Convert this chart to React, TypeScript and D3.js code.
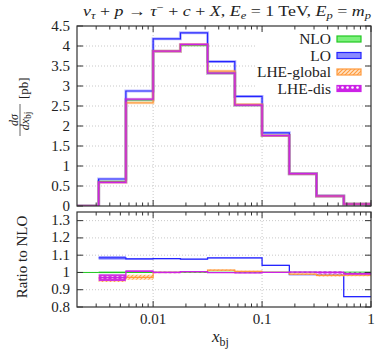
import * as d3 from "d3";

// bin edges in x_bj (first bin is the empty underflow bin)
const binEdges = [0.002, 0.00316, 0.00562, 0.01, 0.0178, 0.0316, 0.0562, 0.1, 0.178, 0.316, 0.562, 1];

// dsigma/dx_bj [pb]
const nloXsec = [0, 0.61, 2.65, 3.87, 4.02, 3.32, 2.52, 1.76, 0.81, 0.25, 0.05];
const loXsec = [0, 0.675, 2.875, 4.18, 4.33, 3.61, 2.74, 1.83, 0.8, 0.25, 0.043];
const globalXsec = [0, 0.59, 2.58, 3.87, 4.04, 3.37, 2.54, 1.76, 0.8, 0.245, 0.049];
const disXsec = [0, 0.59, 2.67, 3.87, 4.04, 3.32, 2.52, 1.76, 0.81, 0.25, 0.05];

// ratio to NLO (bins 1..10) and band half widths
const nloRatio = [1, 1, 1, 1, 1, 1, 1, 1, 1, 1];
const nloErr = [0.004, 0.003, 0.002, 0.002, 0.002, 0.002, 0.002, 0.002, 0.003, 0.004];
const loRatio = [1.084, 1.079, 1.08, 1.077, 1.084, 1.084, 1.041, 0.988, 0.988, 0.86];
const loErr = [0.011, 0.005, 0.004, 0.003, 0.003, 0.003, 0.003, 0.003, 0.003, 0.003];
const globalRatio = [0.965, 0.972, 1.0, 1.005, 1.013, 1.006, 1.0, 0.99, 0.983, 0.985];
const globalErr = [0.02, 0.014, 0.004, 0.003, 0.004, 0.004, 0.003, 0.004, 0.007, 0.007];
const disRatio = [0.97, 1.007, 1.0, 1.005, 0.999, 0.998, 1.0, 1.002, 1.0, 0.993];
const disErr = [0.02, 0.005, 0.004, 0.004, 0.002, 0.002, 0.002, 0.004, 0.007, 0.007];

const topTicks = [0, 0.5, 1, 1.5, 2, 2.5, 3, 3.5, 4, 4.5];
const topTickLabels = ["0", "0.5", "1", "1.5", "2", "2.5", "3", "3.5", "4", "4.5"];
const ratioTicks = [0.8, 0.9, 1, 1.1, 1.2, 1.3];
const ratioTickLabels = ["0.8", "0.9", "1", "1.1", "1.2", "1.3"];
const xMajorTicks = [0.01, 0.1, 1];
const xMajorLabels = ["0.01", "0.1", "1"];
const xMinorTicks = [0.003, 0.004, 0.005, 0.006, 0.007, 0.008, 0.009, 0.02, 0.03, 0.04, 0.05, 0.06, 0.07, 0.08, 0.09, 0.2, 0.3, 0.4, 0.5, 0.6, 0.7, 0.8, 0.9];

const series = [
  { name: "NLO", color: "#22c822", fill: "#7cf07c", xsec: nloXsec, ratio: nloRatio, err: nloErr },
  { name: "LO", color: "#2424ff", fill: "#8a8aff", xsec: loXsec, ratio: loRatio, err: loErr },
  { name: "LHE-global", color: "#ff9a3c", fill: "url(#hatch)", xsec: globalXsec, ratio: globalRatio, err: globalErr },
  { name: "LHE-dis", color: "#cc22e6", fill: "url(#dots)", xsec: disXsec, ratio: disRatio, err: disErr },
];

const W = 380;
const H = 362;
const left = 77, right = 371;
const topY0 = 26, topY1 = 206;
const ratY0 = 212, ratY1 = 307;
const serif = "Liberation Serif";

export default function App() {
  const x = d3.scaleLog().domain([0.002, 1]).range([left, right]);
  const yTop = d3.scaleLinear().domain([0, 4.5]).range([topY1, topY0]);
  const yRat = d3.scaleLinear().domain([0.8, 1.35]).range([ratY1, ratY0]);

  const stepLine = d3
    .line<[number, number]>()
    .x((d) => x(d[0]))
    .y((d) => yTop(d[1]))
    .curve(d3.curveStepAfter);

  const ratioLine = d3
    .line<[number, number]>()
    .x((d) => x(d[0]))
    .y((d) => yRat(d[1]))
    .curve(d3.curveStepAfter);

  const ratioArea = d3
    .area<[number, number, number]>()
    .x((d) => x(d[0]))
    .y0((d) => yRat(d[1] - d[2]))
    .y1((d) => yRat(d[1] + d[2]))
    .curve(d3.curveStepAfter);

  const topPts = (v: number[]) => {
    const p: [number, number][] = v.map((val, i) => [binEdges[i], val]);
    p.push([binEdges[v.length], v[v.length - 1]]);
    return p;
  };
  const ratPts = (r: number[], e: number[]) => {
    const p: [number, number, number][] = r.map((val, i) => [binEdges[i + 1], val, e[i]]);
    p.push([binEdges[r.length + 1], r[r.length - 1], e[e.length - 1]]);
    return p;
  };

  const xTicksFor = (y0: number, dir: number) => (
    <g stroke="#333" strokeWidth={1}>
      {xMajorTicks.map((t) => (
        <line key={"M" + t} x1={x(t)} x2={x(t)} y1={y0} y2={y0 + dir * 6} />
      ))}
      {xMinorTicks.map((t) => (
        <line key={"m" + t} x1={x(t)} x2={x(t)} y1={y0} y2={y0 + dir * 3.5} />
      ))}
    </g>
  );

  const legendRows = [39, 55.5, 72, 88.5];

  return (
    <svg width={W} height={H} style={{ position: "absolute", left: 0, top: 0, background: "#fff", fontFamily: serif }}>
      <defs>
        <pattern id="hatch" patternUnits="userSpaceOnUse" width="4" height="4">
          <rect width="4" height="4" fill="#ffe2c4" />
          <path d="M-1,1 L1,-1 M0,4 L4,0 M3,5 L5,3" stroke="#ff9a3c" strokeWidth="1.1" />
        </pattern>
        <pattern id="dots" patternUnits="userSpaceOnUse" width="5" height="5">
          <rect width="5" height="5" fill="#cc22e6" />
          <circle cx="2.5" cy="2.5" r="1.3" fill="#fff" />
        </pattern>
        <clipPath id="clipTop">
          <rect x={left} y={topY0} width={right - left} height={topY1 - topY0} />
        </clipPath>
        <clipPath id="clipRat">
          <rect x={left} y={ratY0} width={right - left} height={ratY1 - ratY0} />
        </clipPath>
      </defs>

      {/* title */}
      <text x={83} y={16} fontSize={15} fill="#222" textLength={288} lengthAdjust="spacingAndGlyphs" style={{ whiteSpace: "pre", fontFamily: serif }}>
        <tspan fontStyle="italic">ν</tspan>
        <tspan fontStyle="italic" fontSize={10.5} dy={3}>τ</tspan>
        <tspan dy={-3}>{" + "}</tspan>
        <tspan fontStyle="italic">p</tspan>
        <tspan>{" → "}</tspan>
        <tspan fontStyle="italic">τ</tspan>
        <tspan fontSize={10.5} dy={-5}>−</tspan>
        <tspan dy={5}>{" + "}</tspan>
        <tspan fontStyle="italic">c</tspan>
        <tspan>{" + "}</tspan>
        <tspan fontStyle="italic">X</tspan>
        <tspan>{", "}</tspan>
        <tspan fontStyle="italic">E</tspan>
        <tspan fontStyle="italic" fontSize={10.5} dy={3}>e</tspan>
        <tspan dy={-3}>{" = 1 TeV, "}</tspan>
        <tspan fontStyle="italic">E</tspan>
        <tspan fontStyle="italic" fontSize={10.5} dy={3}>p</tspan>
        <tspan dy={-3}>{" = "}</tspan>
        <tspan fontStyle="italic">m</tspan>
        <tspan fontStyle="italic" fontSize={10.5} dy={3}>p</tspan>
      </text>

      {/* grid */}
      <g stroke="#c8c8c8" strokeDasharray="1,2" strokeWidth={1}>
        {topTicks.slice(1, -1).map((t) => (
          <line key={"gt" + t} x1={left} x2={right} y1={yTop(t)} y2={yTop(t)} />
        ))}
        {ratioTicks.slice(1).map((t) => (
          <line key={"gr" + t} x1={left} x2={right} y1={yRat(t)} y2={yRat(t)} />
        ))}
        {xMajorTicks.slice(0, 2).map((t) => (
          <g key={"gx" + t}>
            <line x1={x(t)} x2={x(t)} y1={topY0} y2={topY1} />
            <line x1={x(t)} x2={x(t)} y1={ratY0} y2={ratY1} />
          </g>
        ))}
      </g>

      {/* legend background */}
      <rect x={256} y={30} width={112} height={66} fill="#fff" />

      {/* top panel histograms */}
      <g clipPath="url(#clipTop)" fill="none">
        {series.map((s) => (
          <g key={s.name}>
            <path d={stepLine(topPts(s.xsec)) || ""} stroke={s.color} strokeOpacity={0.3} strokeWidth={3} />
            <path d={stepLine(topPts(s.xsec)) || ""} stroke={s.color} strokeWidth={1.2} />
          </g>
        ))}
      </g>

      {/* ratio panel */}
      <g clipPath="url(#clipRat)">
        <line x1={left} x2={right} y1={yRat(1)} y2={yRat(1)} stroke="#22c822" strokeWidth={1} />
        {series.map((s) => (
          <g key={s.name}>
            <path d={ratioArea(ratPts(s.ratio, s.err)) || ""} fill={s.fill} fillOpacity={s.name === "LO" || s.name === "NLO" ? 0.8 : 0.9} stroke="none" />
            <path d={ratioLine(ratPts(s.ratio, s.err).map((d) => [d[0], d[1]] as [number, number])) || ""} fill="none" stroke={s.color} strokeWidth={1.3} />
          </g>
        ))}
      </g>

      {/* frames */}
      <rect x={left} y={topY0} width={right - left} height={topY1 - topY0} fill="none" stroke="#333" strokeWidth={1.2} />
      <rect x={left} y={ratY0} width={right - left} height={ratY1 - ratY0} fill="none" stroke="#333" strokeWidth={1.2} />

      {/* x ticks */}
      {xTicksFor(topY0, 1)}
      {xTicksFor(topY1, -1)}
      {xTicksFor(ratY0, 1)}
      {xTicksFor(ratY1, -1)}

      {/* y ticks and labels */}
      <g stroke="#333">
        {topTicks.map((t) => (
          <g key={"yt" + t}>
            <line x1={left} x2={left + 6} y1={yTop(t)} y2={yTop(t)} />
            <line x1={right} x2={right - 6} y1={yTop(t)} y2={yTop(t)} />
          </g>
        ))}
        {ratioTicks.map((t) => (
          <g key={"yr" + t}>
            <line x1={left} x2={left + 6} y1={yRat(t)} y2={yRat(t)} />
            <line x1={right} x2={right - 6} y1={yRat(t)} y2={yRat(t)} />
          </g>
        ))}
      </g>
      <g fontSize={15} fill="#222" textAnchor="end" style={{ fontFamily: serif }}>
        {topTicks.map((t, i) => (
          <text key={"lt" + t} x={70} y={yTop(t) + 4.5}>
            {topTickLabels[i]}
          </text>
        ))}
        {ratioTicks.map((t, i) => (
          <text key={"lr" + t} x={70} y={yRat(t) + 4.5}>
            {ratioTickLabels[i]}
          </text>
        ))}
      </g>
      <g fontSize={15} fill="#222" textAnchor="middle" style={{ fontFamily: serif }}>
        {xMajorTicks.map((t, i) => (
          <text key={"lx" + t} x={x(t)} y={324}>
            {xMajorLabels[i]}
          </text>
        ))}
      </g>

      {/* axis titles */}
      <text x={212} y={342} fontSize={17} fill="#222" style={{ fontFamily: serif }}>
        <tspan fontStyle="italic">x</tspan>
        <tspan fontSize={12} dy={4}>bj</tspan>
      </text>
      <g transform="translate(22,112) rotate(-90)" fill="#222" style={{ fontFamily: serif }}>
        <text x={-8} y={-4} fontSize={12} textAnchor="middle">
          <tspan fontStyle="italic">dσ</tspan>
        </text>
        <line x1={-24} x2={8} y1={-2} y2={-2} stroke="#222" strokeWidth={0.7} />
        <text x={-9} y={7} fontSize={12} textAnchor="middle">
          <tspan fontStyle="italic">dx</tspan>
          <tspan fontSize={9.5} dy={2}>bj</tspan>
        </text>
        <text x={13} y={6} fontSize={13}>[pb]</text>
      </g>
      <text transform="translate(27,257) rotate(-90)" fontSize={15} fill="#222" textAnchor="middle" style={{ fontFamily: serif }}>
        Ratio to NLO
      </text>

      {/* legend */}
      {series.map((s, i) => (
        <g key={"lg" + s.name}>
          <text x={331} y={legendRows[i] + 5} fontSize={15.5} fill="#222" textAnchor="end" style={{ fontFamily: serif }}>
            {s.name}
          </text>
          <rect x={337} y={legendRows[i] - 3} width={24} height={6} fill={s.fill} stroke={s.color} strokeWidth={1.2} />
        </g>
      ))}
    </svg>
  );
}
